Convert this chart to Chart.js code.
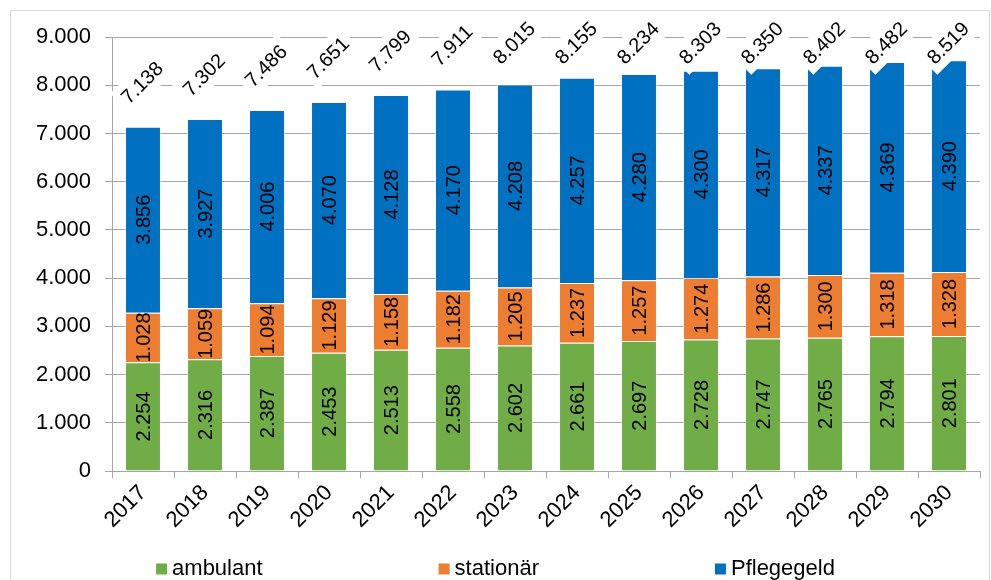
<!DOCTYPE html>
<html>
<head>
<meta charset="utf-8">
<script src="https://cdn.jsdelivr.net/npm/chart.js@4/dist/chart.umd.min.js"></script>
<style>
  html, body { margin: 0; padding: 0; background: #fff; }
  #wrap { position: relative; width: 991px; height: 580px; overflow: hidden; }
  #frame { position: absolute; left: 10px; top: 10px; width: 980px; height: 600px;
           border: 1px solid #d9d9d9; box-sizing: border-box; pointer-events: none; }
</style>
</head>
<body>
<div id="wrap">
  <canvas id="chart" width="991" height="580"></canvas>
  <div id="frame"></div>
</div>
<script>
const years = ['2017', '2018', '2019', '2020', '2021', '2022', '2023', '2024', '2025', '2026', '2027', '2028', '2029', '2030'];
const ambulant = [2254, 2316, 2387, 2453, 2513, 2558, 2602, 2661, 2697, 2728, 2747, 2765, 2794, 2801];
const stationaer = [1028, 1059, 1094, 1129, 1158, 1182, 1205, 1237, 1257, 1274, 1286, 1300, 1318, 1328];
const pflegegeld = [3856, 3927, 4006, 4070, 4128, 4170, 4208, 4257, 4280, 4300, 4317, 4337, 4369, 4390];
const totals = [7138, 7302, 7486, 7651, 7799, 7911, 8015, 8155, 8234, 8303, 8350, 8402, 8482, 8519];

const FONT = '"Liberation Sans", Arial, sans-serif';
const GRID = '#a6a6a6';

// German thousands separator
function fmt(v) {
  return String(v).replace(/\B(?=(\d{3})+(?!\d))/g, '.');
}

// values inside each segment, rotated to read bottom-up
const segmentLabels = {
  id: 'segmentLabels',
  afterDatasetsDraw(chart) {
    const ctx = chart.ctx;
    ctx.save();
    ctx.font = '20px ' + FONT;
    ctx.fillStyle = '#000';
    ctx.textAlign = 'center';
    ctx.textBaseline = 'middle';
    chart.data.datasets.forEach((ds, di) => {
      chart.getDatasetMeta(di).data.forEach((bar, i) => {
        ctx.save();
        ctx.translate(bar.x, (bar.y + bar.base) / 2);
        ctx.rotate(-Math.PI / 2);
        ctx.fillText(fmt(ds.data[i]), 0, 1);
        ctx.restore();
      });
    });

    // totals above the stack, on a white box
    const topMeta = chart.getDatasetMeta(chart.data.datasets.length - 1);
    topMeta.data.forEach((bar, i) => {
      const txt = fmt(totals[i]);
      const w = ctx.measureText(txt).width;
      const cy = Math.max(bar.y - 44, 43);
      ctx.save();
      ctx.translate(bar.x - 1, cy);
      ctx.rotate(-Math.PI / 4);
      ctx.fillStyle = '#fff';
      ctx.fillRect(-w / 2 - 5, -15, w + 10, 30);
      ctx.fillStyle = '#000';
      ctx.fillText(txt, 0, 1);
      ctx.restore();
    });
    ctx.restore();
  }
};

// legend spread out along the bottom like the original
const spreadLegend = {
  id: 'spreadLegend',
  afterDraw(chart) {
    const ctx = chart.ctx;
    ctx.save();
    ctx.font = '22px ' + FONT;
    ctx.textBaseline = 'middle';
    const box = 11, gapText = 5, gap = 176;
    const items = chart.data.datasets.map(ds => ({
      text: ds.label,
      color: ds.backgroundColor,
      w: box + gapText + ctx.measureText(ds.label).width
    }));
    const total = items.reduce((s, it) => s + it.w, 0) + gap * (items.length - 1);
    let x = chart.width / 2 - total / 2;
    const y = 569;
    items.forEach(it => {
      ctx.fillStyle = it.color;
      ctx.fillRect(x, y - box / 2, box, box);
      ctx.fillStyle = '#000';
      ctx.fillText(it.text, x + box + gapText, y);
      x += it.w + gap;
    });
    ctx.restore();
  }
};

const barStyle = { borderWidth: 1, borderColor: 'rgba(255,255,255,0.55)', barPercentage: 0.58, categoryPercentage: 1 };

new Chart(document.getElementById('chart'), {
  type: 'bar',
  data: {
    labels: years,
    datasets: [
      { label: 'ambulant', data: ambulant, backgroundColor: '#70ad47', ...barStyle },
      { label: 'stationär', data: stationaer, backgroundColor: '#ed7d31', ...barStyle },
      { label: 'Pflegegeld', data: pflegegeld, backgroundColor: '#0070c0', ...barStyle },
    ],
  },
  options: {
    responsive: false,
    animation: false,
    layout: { padding: { left: 0, top: 37, right: 11, bottom: 40 } },
    plugins: {
      legend: { display: false },
      tooltip: { enabled: false },
    },
    scales: {
      x: {
        stacked: true,
        grid: { drawOnChartArea: false, tickLength: 7, color: GRID, offset: true },
        border: { color: GRID },
        ticks: { minRotation: 45, maxRotation: 45, padding: 2, color: '#000', font: { size: 22, family: FONT } },
        afterFit: s => { s.height = 69; },
      },
      y: {
        stacked: true,
        min: 0,
        max: 9000,
        grid: { color: GRID, tickLength: 7, tickColor: GRID },
        border: { color: GRID },
        ticks: { stepSize: 1000, padding: 14, color: '#000', font: { size: 22, family: FONT }, callback: v => fmt(v) },
        afterFit: s => { s.width = 112; },
      },
    },
  },
  plugins: [segmentLabels, spreadLegend],
});
</script>
</body>
</html>
